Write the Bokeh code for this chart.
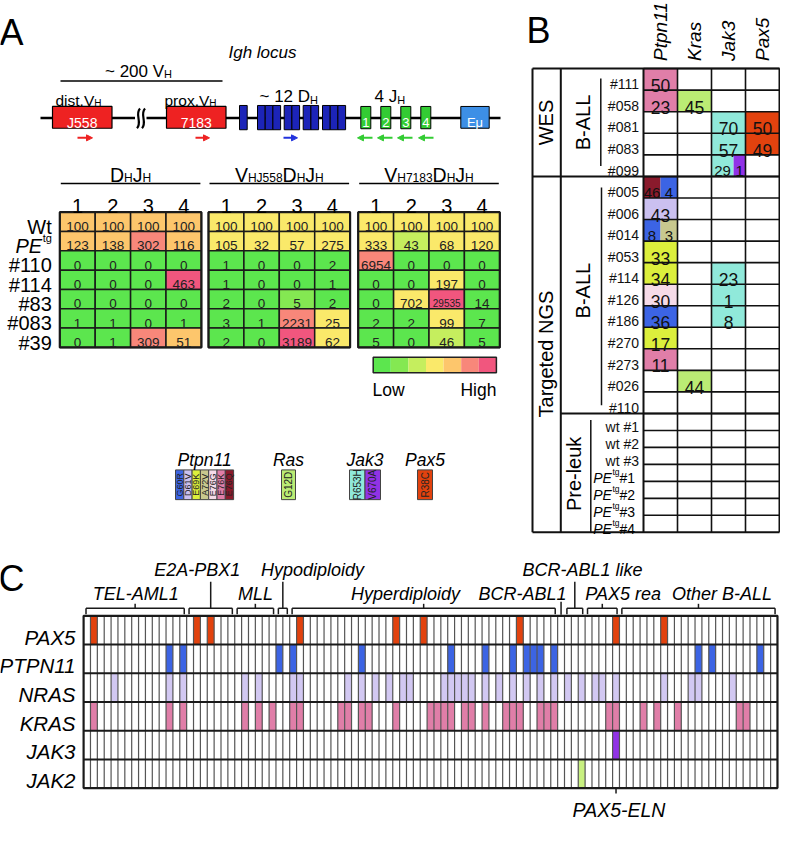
import math
from bokeh.plotting import figure
from bokeh.models import Range1d, Arrow, NormalHead, ColumnDataSource
from bokeh.embed import file_html
from bokeh.resources import INLINE
from bokeh.core.properties import value

FONT = "Liberation Sans"

# ======================= DATA =======================
# ---- Panel A : Igh rearrangement heat map ----
A_ROWS = ["Wt", "PEtg", "#110", "#114", "#83", "#083", "#39"]
A_COLS = ["1", "2", "3", "4"]
A_DHJH = [[100, 100, 100, 100], [123, 138, 302, 116], [0, 0, 0, 0], [0, 0, 0, 463],
          [0, 0, 0, 0], [1, 1, 0, 1], [0, 1, 309, 51]]
A_VJ558 = [[100, 100, 100, 100], [105, 32, 57, 275], [1, 0, 0, 2], [1, 0, 0, 1],
           [2, 0, 5, 2], [3, 1, 2231, 25], [2, 0, 3189, 62]]
A_V7183 = [[100, 100, 100, 100], [333, 43, 68, 120], [6954, 0, 0, 0], [0, 0, 197, 0],
           [0, 702, 29535, 14], [2, 2, 99, 7], [5, 0, 46, 5]]
# colour level of each cell (0 = low ... 6 = high)
A_DHJH_LVL = [[4, 4, 4, 4], [4, 4, 5, 4], [0, 0, 0, 0], [0, 0, 0, 6], [0, 0, 0, 0], [0, 0, 0, 0], [0, 0, 5, 4]]
A_VJ558_LVL = [[3, 3, 3, 3], [3, 3, 3, 3], [0, 0, 0, 0], [0, 0, 0, 0], [0, 0, 1, 0], [0, 0, 5, 3], [0, 0, 6, 3]]
A_V7183_LVL = [[3, 3, 3, 3], [3, 2, 3, 3], [5, 0, 0, 0], [0, 0, 3, 0], [0, 3, 6, 0], [0, 0, 3, 0], [0, 0, 2, 0]]
SCALE = ["#5ce64e", "#84e852", "#c5ee5e", "#fae96a", "#fdc66c", "#f8877a", "#f1567e"]

# ---- mutation legend ----
MUT_COLORS = {"G60R": "#3c64e4", "D61V": "#cbc0f0", "E69K": "#dcef3c", "A72V": "#c8c88e",
              "E76G": "#f6dbe8", "E76K": "#e07ea8", "E76Q": "#8a1a2c", "G12D": "#bbec74",
              "R653H": "#90e9da", "V670A": "#9132e6", "R38C": "#e2420e"}
LEG_GROUPS = ["Ptpn11", "Ras", "Jak3", "Pax5"]
LEG_MUTS = [["G60R", "D61V", "E69K", "A72V", "E76G", "E76K", "E76Q"], ["G12D"],
            ["R653H", "V670A"], ["R38C"]]

# ---- Panel B ----
B_GENES = ["Ptpn11", "Kras", "Jak3", "Pax5"]
B_WES = ["#111", "#058", "#081", "#083", "#099"]
B_NGS = ["#005", "#006", "#014", "#053", "#114", "#126", "#186", "#270", "#273", "#026", "#110"]
B_PRE = ["wt #1", "wt #2", "wt #3", "PE #1", "PE #2", "PE #3", "PE #4"]
B_WES_CELLS = [
    ("#111", "Ptpn11", [("50", "E76K")]),
    ("#058", "Ptpn11", [("23", "E76K")]), ("#058", "Kras", [("45", "G12D")]),
    ("#081", "Jak3", [("70", "R653H")]), ("#081", "Pax5", [("50", "R38C")]),
    ("#083", "Jak3", [("57", "R653H")]), ("#083", "Pax5", [("49", "R38C")]),
    ("#099", "Jak3", [("29", "R653H"), ("1", "V670A")]),
]
B_NGS_CELLS = [
    ("#005", "Ptpn11", [("46", "E76Q"), ("4", "G60R")]),
    ("#006", "Ptpn11", [("43", "D61V")]),
    ("#014", "Ptpn11", [("8", "G60R"), ("3", "A72V")]),
    ("#053", "Ptpn11", [("33", "E69K")]),
    ("#114", "Ptpn11", [("34", "E69K")]), ("#114", "Jak3", [("23", "R653H")]),
    ("#126", "Ptpn11", [("30", "E76G")]), ("#126", "Jak3", [("1", "R653H")]),
    ("#186", "Ptpn11", [("36", "G60R")]), ("#186", "Jak3", [("8", "R653H")]),
    ("#270", "Ptpn11", [("17", "E69K")]),
    ("#273", "Ptpn11", [("11", "E76K")]),
    ("#026", "Kras", [("44", "G12D")]),
]

# ---- Panel C ----
C_GENES = ["PAX5", "PTPN11", "NRAS", "KRAS", "JAK3", "JAK2"]
C_N = 101
C_PAX5 = [1, 16, 18, 31, 45, 49, 63, 77, 84]
C_PTPN11 = [12, 14, 28, 30, 40, 53, 58, 62, 64, 65, 66, 68, 89, 91, 98]
C_NRAS = [4, 12, 14, 23, 25, 30, 31, 38, 40, 42, 44, 46, 47, 52, 53, 54, 55, 56, 58, 60, 62,
          64, 66, 68, 70, 72, 74, 75, 77, 84, 88, 89, 94]
C_KRAS = [1, 12, 14, 23, 25, 27, 30, 31, 37, 38, 40, 41, 45, 50, 51, 52, 53, 55, 56, 58, 61,
          62, 63, 66, 67, 68, 76, 77, 81, 83, 86, 95, 96]
C_JAK3 = [77]
C_JAK2 = [72]
C_GENE_COLORS = ["#e2420e", "#3c64e4", "#d2c8f2", "#e07ea8", "#9132e6", "#c8f080"]
C_SUBTYPES = ["TEL-AML1", "E2A-PBX1", "MLL", "Hypodiploidy", "Hyperdiploidy", "BCR-ABL1",
              "BCR-ABL1 like", "PAX5 rea", "Other B-ALL"]
C_SUB_FIRST = [0, 15, 22, 28, 30, 69, 70, 73, 78]
C_SUB_LAST = [14, 21, 27, 29, 68, 69, 72, 77, 100]
C_FUSION = ("PAX5-ELN", 77)

# ======================= FIGURE =======================
W, H = 780, 820
p = figure(width=W, height=H, x_range=Range1d(8, 8 + W), y_range=Range1d(836, 8),
           output_backend="svg", toolbar_location=None, x_axis_location=None,
           y_axis_location=None, min_border=0)
p.grid.visible = False
p.outline_line_color = None

AW = {' ': 278, '!': 278, '#': 556, '.': 278, '-': 333, '~': 584,
      'A': 667, 'B': 667, 'C': 722, 'D': 722, 'E': 667, 'F': 611, 'G': 778, 'H': 722, 'I': 278,
      'J': 500, 'K': 667, 'L': 556, 'M': 833, 'N': 722, 'O': 778, 'P': 667, 'Q': 778, 'R': 722,
      'S': 667, 'T': 611, 'U': 722, 'V': 667, 'W': 944, 'X': 667, 'Y': 667, 'Z': 611,
      'a': 556, 'b': 556, 'c': 500, 'd': 556, 'e': 556, 'f': 278, 'g': 556, 'h': 556, 'i': 222,
      'j': 222, 'k': 500, 'l': 222, 'm': 833, 'n': 556, 'o': 556, 'p': 556, 'q': 556, 'r': 333,
      's': 500, 't': 278, 'u': 556, 'v': 500, 'w': 722, 'x': 500, 'y': 500, 'z': 500, 'μ': 576}


def tw(s, size):
    return sum(AW.get(c, 556) for c in s) * size / 1000.0


TX = dict(x=[], y=[], text=[], tsize=[], tstyle=[], talign=[], tbase=[], tangle=[], tcolor=[])


def T(x, y, s, size, style="normal", align="left", base="alphabetic", angle=0.0, color="black"):
    TX["x"].append(x); TX["y"].append(y); TX["text"].append(s)
    TX["tsize"].append("%.1fpx" % size); TX["tstyle"].append(style)
    TX["talign"].append(align); TX["tbase"].append(base)
    TX["tangle"].append(angle); TX["tcolor"].append(color)


def rich(x, y, parts, align="left"):
    total = sum(tw(t, s) for (t, s, st, dy) in parts)
    x0 = x - total / 2 if align == "center" else (x - total if align == "right" else x)
    for t, s, st, dy in parts:
        T(x0, y + dy, t, s, style=st)
        x0 += tw(t, s)


def quads(L, R, Tp, B, fill, line=None, lw=1.0):
    p.quad(left=L, right=R, top=Tp, bottom=B, fill_color=fill,
           line_color=line, line_width=lw)


def segs(x0, y0, x1, y1, color="black", lw=1.5):
    p.segment(x0=x0, y0=y0, x1=x1, y1=y1, line_color=color, line_width=lw)


# ======================= PANEL A =======================
T(7, 40, "A", 36)
T(270, 60.7, "Igh locus", 17, style="italic", align="center")
rich(146, 79.3, [("~ 200 V", 17, "normal", 0), ("H", 11, "normal", 3)], align="center")
segs([68], [89.3], [230], [89.3], lw=1.5)
rich(63, 109, [("dist.V", 15.5, "normal", 0), ("H", 10, "normal", 3)])
rich(172, 109, [("prox.V", 15.5, "normal", 0), ("H", 10, "normal", 3)])
rich(267, 105, [("~ 12 D", 17, "normal", 0), ("H", 11, "normal", 3)])
rich(382, 105, [("4 J", 17, "normal", 0), ("H", 11, "normal", 3)])

LOC_Y = 126.7
segs([48], [LOC_Y], [508], [LOC_Y], lw=2.5)
# squiggle break
quads([142.5], [154], [120], [134], "white")
p.bezier(x0=[144.5, 149.5], y0=[137, 137], x1=[147.5, 152.5], y1=[117, 117],
         cx0=[150, 155], cy0=[131, 131], cx1=[142, 147], cy1=[123, 123],
         line_color="black", line_width=2.2)

V_NAMES = ["J558", "7183"]
V_X = [60, 174]
V_W = 59.5
quads([x for x in V_X], [x + V_W for x in V_X], [115] * 2, [137] * 2, "#ee2222", "black", 1.2)
for nm, x in zip(V_NAMES, V_X):
    T(x + V_W / 2, 131.5, nm, 14, align="center", color="white")

D_GROUP_SIZES = [1, 3, 2, 2, 3]
D_GROUP_X = [247, 265, 291.7, 310.7, 330]
D_W = 7.7
dl, dr = [], []
for n, gx in zip(D_GROUP_SIZES, D_GROUP_X):
    for k in range(n):
        dl.append(gx + k * D_W); dr.append(gx + (k + 1) * D_W)
quads(dl, dr, [114] * len(dl), [138.5] * len(dl), "#1c24b8", "black", 1.0)

J_X0, J_PITCH, J_W = 368.3, 20.0, 10.0
jl = [J_X0 + k * J_PITCH for k in range(4)]
quads(jl, [x + J_W for x in jl], [115] * 4, [137.5] * 4, "#33cc33", "black", 1.0)
for k, x in enumerate(jl):
    T(x + J_W / 2, 131, str(k + 1), 13, align="center", color="white")
quads([468.3], [496.7], [115], [137], "#3d8fe6", "black", 1.0)
T(482.5, 131, "Eμ", 13, align="center", color="white")

ARROWS = [(85, 100, "#ee2222"), (203, 217, "#ee2222"), (291, 305, "#2233dd"),
          (380, 365, "#33cc33"), (400, 385, "#33cc33"), (420, 405, "#33cc33"), (441, 426, "#33cc33")]
for xs, xe, c in ARROWS:
    p.add_layout(Arrow(x_start=xs, y_start=146.7, x_end=xe, y_end=146.7, line_color=c,
                       line_width=2, end=NormalHead(size=6, fill_color=c, line_color=c)))

# heat map
HA_X0 = [67.3, 216.0, 365.7]
HA_CW = 35.4
HA_TOP = 221.7
HA_RH = 19.52
HA_VALS = [A_DHJH, A_VJ558, A_V7183]
HA_LVLS = [A_DHJH_LVL, A_VJ558_LVL, A_V7183_LVL]
HA_HDR = [
    [("D", 19.5, "normal", 0), ("H", 12, "normal", 3), ("J", 19.5, "normal", 0), ("H", 12, "normal", 3)],
    [("V", 19.5, "normal", 0), ("HJ558", 12, "normal", 3), ("D", 19.5, "normal", 0), ("H", 12, "normal", 3),
     ("J", 19.5, "normal", 0), ("H", 12, "normal", 3)],
    [("V", 19.5, "normal", 0), ("H7183", 12, "normal", 3), ("D", 19.5, "normal", 0), ("H", 12, "normal", 3),
     ("J", 19.5, "normal", 0), ("H", 12, "normal", 3)],
]
for g in range(3):
    x0 = HA_X0[g]
    L, R, Tp, B, F = [], [], [], [], []
    for i in range(len(A_ROWS)):
        for j in range(len(A_COLS)):
            L.append(x0 + j * HA_CW); R.append(x0 + (j + 1) * HA_CW)
            Tp.append(HA_TOP + i * HA_RH); B.append(HA_TOP + (i + 1) * HA_RH)
            F.append(SCALE[HA_LVLS[g][i][j]])
            v = HA_VALS[g][i][j]
            sz = 10 if v >= 10000 else 13.5
            T(x0 + (j + 0.5) * HA_CW, HA_TOP + (i + 0.5) * HA_RH + 0.36 * sz, str(v), sz,
              align="center", color="#222222")
    quads(L, R, Tp, B, F, "#1a1a1a", 1.5)
    quads([x0], [x0 + 4 * HA_CW], [HA_TOP], [HA_TOP + len(A_ROWS) * HA_RH], None, "#1a1a1a", 2.2)
    for j, c in enumerate(A_COLS):
        T(x0 + (j + 0.5) * HA_CW, 215, c, 20, align="center")
    rich(x0 + 2 * HA_CW, 184.3, HA_HDR[g], align="center")
    segs([x0 + 1], [192.7], [x0 + 4 * HA_CW - 1], [192.7], lw=1.5)

for i, r in enumerate(A_ROWS):
    yb = HA_TOP + (i + 0.5) * HA_RH + 4.8
    if r == "PEtg":
        rich(59.3, yb, [("PE", 20, "italic", 0), (" ", 2, "normal", 0), ("tg", 11, "normal", -8)],
             align="right")
    else:
        T(59.3, yb, r, 20, align="right")

# colour bar
CB_X0, CB_W, CB_T, CB_B = 380.7, 17.6, 368.3, 384
quads([CB_X0 + k * CB_W for k in range(len(SCALE))], [CB_X0 + (k + 1) * CB_W for k in range(len(SCALE))],
      [CB_T] * len(SCALE), [CB_B] * len(SCALE), SCALE)
quads([CB_X0], [CB_X0 + len(SCALE) * CB_W], [CB_T], [CB_B], None, "#222222", 1.5)
T(380, 401.7, "Low", 17.5)
T(CB_X0 + len(SCALE) * CB_W, 401.7, "High", 17.5, align="right")

# mutation legend
LEG_X0 = [183, 289, 357, 425]
LEG_BW = [8.3, 14, 15.5, 15]
for g, name in enumerate(LEG_GROUPS):
    muts = LEG_MUTS[g]
    x0, bw = LEG_X0[g], LEG_BW[g]
    quads([x0 + k * bw for k in range(len(muts))], [x0 + (k + 1) * bw for k in range(len(muts))],
          [482] * len(muts), [512] * len(muts), [MUT_COLORS[m] for m in muts], "#444444", 1.0)
    for k, m in enumerate(muts):
        T(x0 + (k + 0.5) * bw, 497, m, 9 if bw < 10 else 10, align="center", base="middle",
          angle=math.pi / 2, color="#222222")
    T(x0 + len(muts) * bw / 2, 472, name, 17.5, style="italic", align="center")

# ======================= PANEL B =======================
T(534, 38.5, "B", 36)
B_COLX = [651.0, 685.0, 719.0, 753.0, 787.0]
B_LEFT, B_MID = 540.0, 568.3
B_WES_T, B_WES_H = 76.7, 21.8
B_NGS_T, B_NGS_H = 185.7, 21.75
B_PRE_T, B_PRE_H = 425.0, 17.14
row_tops = {}
row_h = {}
for i, s in enumerate(B_WES):
    row_tops[("W", s)] = B_WES_T + i * B_WES_H; row_h[("W", s)] = B_WES_H
for i, s in enumerate(B_NGS):
    row_tops[("N", s)] = B_NGS_T + i * B_NGS_H; row_h[("N", s)] = B_NGS_H
for i, s in enumerate(B_PRE):
    row_tops[("P", s)] = B_PRE_T + i * B_PRE_H; row_h[("P", s)] = B_PRE_H
B_BOTTOM = B_PRE_T + len(B_PRE) * B_PRE_H

# column headers
for k, gname in enumerate(B_GENES):
    T((B_COLX[k] + B_COLX[k + 1]) / 2, 69, gname, 19, style="italic", align="left",
      base="middle", angle=math.pi / 2)

# filled cells
for grp, cells in (("W", B_WES_CELLS), ("N", B_NGS_CELLS)):
    for (sample, gene, parts) in cells:
        top = row_tops[(grp, sample)]; h = row_h[(grp, sample)]
        k = B_GENES.index(gene)
        xl, xr = B_COLX[k], B_COLX[k + 1]
        if len(parts) == 1:
            fr = [0.0, 1.0]
        else:
            fr = [0.0, 0.65 if gene == "Jak3" else 0.5, 1.0]
        for q, (lab, mut) in enumerate(parts):
            a = xl + fr[q] * (xr - xl); b = xl + fr[q + 1] * (xr - xl)
            quads([a], [b], [top], [top + h], MUT_COLORS[mut])
            sz = 17.5 if len(parts) == 1 else 15
            T((a + b) / 2, top + h / 2 + 0.36 * sz, lab, sz, align="center", color="#111111")

# grid
xs0, ys0, xs1, ys1 = [], [], [], []
for (grp, s), t in row_tops.items():
    xs0.append(B_COLX[0]); xs1.append(B_COLX[-1]); ys0.append(t); ys1.append(t)
for x in B_COLX[1:-1]:
    xs0.append(x); xs1.append(x); ys0.append(B_WES_T); ys1.append(B_BOTTOM)
segs(xs0, ys0, xs1, ys1, color="#111111", lw=1.6)
segs([B_LEFT, B_LEFT, B_LEFT, B_MID, B_LEFT, B_MID, B_COLX[0], B_COLX[-1]],
     [B_WES_T, B_NGS_T, B_BOTTOM, B_PRE_T, B_WES_T, B_WES_T, B_WES_T, B_WES_T],
     [B_COLX[-1], B_COLX[-1], B_COLX[-1], B_COLX[-1], B_LEFT, B_MID, B_COLX[0], B_COLX[-1]],
     [B_WES_T, B_NGS_T, B_BOTTOM, B_PRE_T, B_BOTTOM, B_BOTTOM, B_BOTTOM, B_BOTTOM],
     color="#111111", lw=2.0)
# bracket lines
segs([608.3, 609.0, 598.3], [B_WES_T + 10, B_NGS_T + 11, B_PRE_T + 6.7],
     [608.3, 609.0, 598.3], [B_NGS_T - 10.7, B_PRE_T - 8.3, B_BOTTOM], color="#111111", lw=1.5)
# group labels
T(553.3, (B_WES_T + B_NGS_T) / 2, "WES", 20, align="center", base="middle", angle=math.pi / 2)
T(553.3, 365, "Targeted NGS", 20, align="center", base="middle", angle=math.pi / 2)
T(590.5, (B_WES_T + B_NGS_T) / 2, "B-ALL", 20, align="center", base="middle", angle=math.pi / 2)
T(590.5, 301, "B-ALL", 20, align="center", base="middle", angle=math.pi / 2)
T(581.5, 486, "Pre-leuk", 20, align="center", base="middle", angle=math.pi / 2)
# row labels
for (grp, s), t in row_tops.items():
    h = row_h[(grp, s)]
    yb = t + h / 2 + 5
    if s.startswith("PE"):
        rich(646.5, yb, [("PE", 14, "italic", 0), (" ", 2, "normal", 0), ("tg", 8.5, "normal", -5.5),
                         (s[2:], 14, "normal", 0)], align="right")
    else:
        T(646.5, yb, s, 14, align="right", color="#111111")

# ======================= PANEL C =======================
T(6, 592, "C", 36)
C_X0, C_CW, C_Y0, C_RH = 91.1, 6.87, 629.3, 29.0
C_MUTS = [C_PAX5, C_PTPN11, C_NRAS, C_KRAS, C_JAK3, C_JAK2]
for gi, cols in enumerate(C_MUTS):
    quads([C_X0 + c * C_CW for c in cols], [C_X0 + (c + 1) * C_CW for c in cols],
          [C_Y0 + gi * C_RH] * len(cols), [C_Y0 + (gi + 1) * C_RH] * len(cols),
          C_GENE_COLORS[gi])
C_BOT = C_Y0 + len(C_GENES) * C_RH
segs([C_X0 + k * C_CW for k in range(1, C_N)], [C_Y0] * (C_N - 1),
     [C_X0 + k * C_CW for k in range(1, C_N)], [C_BOT] * (C_N - 1), color="#555555", lw=1.2)
segs([C_X0] * (len(C_GENES) - 1), [C_Y0 + k * C_RH for k in range(1, len(C_GENES))],
     [C_X0 + C_N * C_CW] * (len(C_GENES) - 1), [C_Y0 + k * C_RH for k in range(1, len(C_GENES))],
     color="#1a1a1a", lw=2.0)
quads([C_X0], [C_X0 + C_N * C_CW], [C_Y0], [C_BOT], None, "#1a1a1a", 2.2)
for gi, g in enumerate(C_GENES):
    T(83, C_Y0 + (gi + 0.5) * C_RH + 7, g, 20.5, style="italic", align="right")

# subtype brackets
C_LABEL_X = [143.3, 204.7, 263, 320, 413, 530, 590, 630.6, 729.5]
C_LABEL_UP = [False, True, False, True, False, False, True, False, False]
BR_Y = 621.7
bx0, by0, bx1, by1 = [], [], [], []
for k, name in enumerate(C_SUBTYPES):
    a = C_X0 + (C_SUB_FIRST[k] + 0.35) * C_CW
    b = C_X0 + (C_SUB_LAST[k] + 0.65) * C_CW
    mid = C_X0 + (C_SUB_FIRST[k] + C_SUB_LAST[k] + 1) / 2 * C_CW
    if C_SUB_FIRST[k] == C_SUB_LAST[k]:
        bx0 += [mid]; by0 += [BR_Y - 6.5]; bx1 += [mid]; by1 += [BR_Y + 6.5]
    else:
        bx0 += [a, a, b]; by0 += [BR_Y, BR_Y, BR_Y]; bx1 += [b, a, b]; by1 += [BR_Y, BR_Y + 6, BR_Y + 6]
        if C_LABEL_UP[k]:
            bx0 += [mid]; by0 += [595]; bx1 += [mid]; by1 += [BR_Y]
        else:
            bx0 += [mid]; by0 += [BR_Y - 4.5]; bx1 += [mid]; by1 += [BR_Y]
    T(C_LABEL_X[k], 583.3 if C_LABEL_UP[k] else 607.3, name, 18, style="italic", align="center")
segs(bx0, by0, bx1, by1, color="#1a1a1a", lw=1.5)

fx = C_X0 + (C_FUSION[1] + 0.5) * C_CW
segs([fx], [C_BOT], [fx], [C_BOT + 5.5], color="#1a1a1a", lw=1.5)
T(fx + 3, 825, C_FUSION[0], 19.5, style="italic", align="center")

# ======================= TEXT =======================
src = ColumnDataSource(TX)
p.text(x="x", y="y", text="text", source=src, text_font=value(FONT), text_font_size="tsize",
       text_font_style="tstyle", text_align="talign", text_baseline="tbase", angle="tangle",
       text_color="tcolor")

open("out.html", "w").write(file_html(p, INLINE))
